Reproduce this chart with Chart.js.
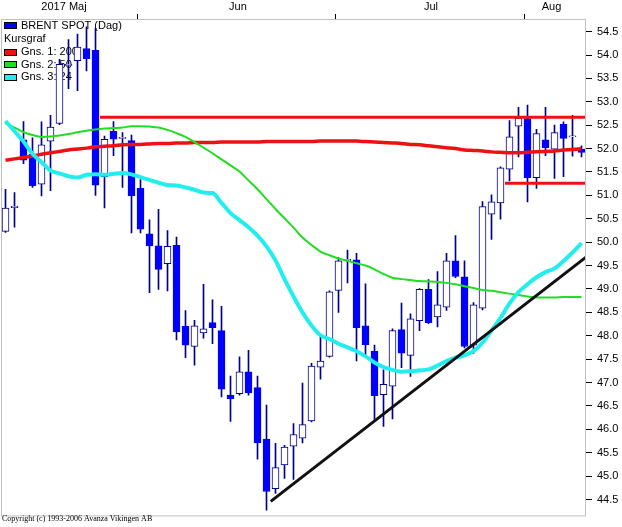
<!DOCTYPE html>
<html>
<head>
<meta charset="utf-8">
<title>BRENT SPOT (Dag)</title>
<script src="https://cdn.jsdelivr.net/npm/chart.js@4.4.1/dist/chart.umd.min.js"></script>
<style>
    html, body { margin: 0; padding: 0; background: #fff; }
    #wrap { width: 622px; height: 527px; }
</style>
</head>
<body>
<div id="wrap"><canvas id="brentChart" width="622" height="527"></canvas></div>
<script>
// candle data, one entry per trading day
const opens  = [50.23, 50.74, 52.19, 51.88, 51.24, 52.16, 52.54, 53.78, 53.88, 54.14,
                54.10, 51.40, 52.37, 52.22, 52.17, 51.15, 50.18, 49.92, 49.54, 49.93,
                48.20, 47.77, 48.06, 48.28, 48.11, 46.73, 46.76, 47.23, 46.89, 45.79,
                44.73, 45.24, 45.64, 45.81, 46.18, 47.33, 47.56, 48.97, 49.61, 49.62,
                48.21, 47.67, 46.74, 46.92, 48.13, 47.58, 48.32, 48.99, 48.40, 48.61,
                49.60, 49.26, 47.80, 48.59, 50.60, 50.84, 51.56, 52.48, 52.64, 51.38,
                52.19, 51.99, 52.52, 52.25, 51.99];
const highs  = [51.13, 51.06, 52.58, 52.23, 52.57, 52.71, 53.91, 54.33, 54.45, 54.60,
                54.57, 52.27, 52.58, 52.34, 52.29, 51.34, 50.48, 50.70, 50.25, 50.11,
                48.54, 48.33, 49.10, 48.77, 48.63, 47.14, 47.55, 47.69, 47.14, 46.52,
                45.70, 45.66, 46.12, 46.99, 47.41, 47.97, 48.96, 49.67, 49.83, 49.76,
                49.11, 47.80, 47.27, 48.15, 48.70, 48.47, 49.01, 49.20, 49.37, 49.76,
                50.14, 49.60, 48.71, 50.87, 51.01, 51.61, 52.60, 52.88, 52.93, 52.41,
                52.88, 52.50, 52.57, 52.71, 52.06];
const lows   = [50.21, 50.32, 51.68, 51.17, 50.99, 51.10, 52.51, 53.28, 53.24, 53.66,
                51.00, 50.73, 51.85, 51.17, 50.20, 50.20, 48.92, 48.99, 48.96, 47.91,
                47.53, 47.37, 47.95, 47.83, 46.69, 46.17, 46.73, 46.73, 45.36, 44.27,
                44.63, 44.95, 44.93, 45.71, 46.16, 47.07, 47.54, 48.50, 49.13, 47.46,
                47.53, 46.21, 46.06, 46.22, 47.32, 47.13, 48.11, 48.26, 48.19, 48.54,
                49.24, 47.74, 47.62, 48.55, 50.06, 50.49, 51.31, 51.82, 50.86, 51.15,
                51.85, 51.36, 51.40, 51.84, 51.82];
const closes = [50.73, 50.77, 51.75, 51.21, 52.08, 52.46, 53.80, 53.80, 54.17, 53.92,
                51.22, 52.20, 52.20, 52.24, 50.99, 50.28, 49.92, 49.42, 49.91, 48.08,
                47.80, 48.21, 48.15, 48.17, 46.86, 46.65, 47.23, 46.78, 45.71, 44.67,
                45.18, 45.62, 45.89, 46.10, 47.35, 47.46, 48.94, 49.60, 49.63, 48.17,
                47.81, 46.72, 46.96, 48.11, 47.63, 48.36, 48.99, 48.28, 48.66, 49.60,
                49.27, 47.77, 48.66, 50.76, 50.86, 51.59, 52.25, 52.65, 51.38, 52.32,
                52.02, 52.34, 52.22, 52.27, 51.92];

// glidande medelvärden (Gns. 1: 200, Gns. 2: 50, Gns. 3: 24)
const ma200 = [51.75, 51.78, 51.81, 51.84, 51.88, 51.91, 51.94, 51.97, 51.99, 52.01,
               52.04, 52.05, 52.06, 52.08, 52.09, 52.09, 52.10, 52.11, 52.11, 52.12,
               52.12, 52.13, 52.13, 52.13, 52.14, 52.14, 52.14, 52.14, 52.14, 52.15,
               52.15, 52.15, 52.15, 52.15, 52.15, 52.16, 52.16, 52.16, 52.16, 52.16,
               52.15, 52.14, 52.13, 52.12, 52.11, 52.09, 52.08, 52.06, 52.04, 52.02,
               52.00, 51.97, 51.96, 51.95, 51.93, 51.92, 51.91, 51.91, 51.92, 51.93,
               51.94, 51.95, 51.97, 51.98, 52.00];
const ma50  = [52.54, 52.45, 52.35, 52.29, 52.25, 52.26, 52.28, 52.31, 52.35, 52.38,
               52.41, 52.43, 52.44, 52.45, 52.48, 52.48, 52.47, 52.45, 52.40, 52.33,
               52.25, 52.14, 52.02, 51.90, 51.77, 51.64, 51.51, 51.32, 51.13, 50.92,
               50.71, 50.51, 50.31, 50.10, 49.94, 49.80, 49.72, 49.65, 49.60, 49.55,
               49.50, 49.42, 49.32, 49.24, 49.21, 49.19, 49.17, 49.16, 49.15, 49.13,
               49.10, 49.06, 49.02, 48.98, 48.96, 48.93, 48.90, 48.87, 48.84, 48.82,
               48.82, 48.82, 48.83, 48.83, 48.83];
const ma24  = [52.59, 52.37, 52.15, 51.89, 51.71, 51.53, 51.47, 51.41, 51.38, 51.44,
               51.45, 51.44, 51.46, 51.48, 51.45, 51.39, 51.33, 51.27, 51.22, 51.21,
               51.17, 51.12, 51.06, 51.05, 50.84, 50.62, 50.47, 50.32, 50.14, 49.91,
               49.61, 49.21, 48.84, 48.50, 48.22, 48.01, 47.93, 47.83, 47.75, 47.67,
               47.56, 47.43, 47.33, 47.27, 47.23, 47.24, 47.26, 47.28, 47.36, 47.46,
               47.53, 47.58, 47.67, 47.85, 48.11, 48.38, 48.69, 48.93, 49.10, 49.25,
               49.36, 49.44, 49.60, 49.78, 49.98];

// ritade linjer (dagindex, kurs)
const resistHigh = [{ x: 10.5, y: 52.67 }, { x: 64.5, y: 52.67 }];
const resistLow  = [{ x: 55.5, y: 51.26 }, { x: 64.5, y: 51.26 }];
const trendLine  = [{ x: 29.47, y: 44.46 }, { x: 64.5, y: 49.68 }];

// axlar
const days = opens.map((_, i) => "d" + (i + 1));
const monthLabels = ["2017 Maj", "Jun", "Jul", "Aug"];
const monthPos = [6.5, 25.83, 47.28, 60.67];
const midMonthPos = [14.64, 36.67, 57.68];
const priceTicks = [44.5, 45.0, 45.5, 46.0, 46.5, 47.0, 47.5, 48.0, 48.5, 49.0, 49.5,
                    50.0, 50.5, 51.0, 51.5, 52.0, 52.5, 53.0, 53.5, 54.0, 54.5];

const legendRows = [
    { text: "BRENT SPOT (Dag)", color: "#0000ff" },
    { text: "Kursgraf", color: null },
    { text: "Gns. 1: 200", color: "#ee1111" },
    { text: "Gns. 2: 50", color: "#22dd22" },
    { text: "Gns. 3: 24", color: "#22eeee" }
];

const NAVY = "#00008b";
const BLUE = "#0000ff";
const isUp = i => closes[i] >= opens[i];

// legend inne i grafen, ritas under staplarna
const legendPlugin = {
    id: "insideLegend",
    beforeDatasetsDraw(chart) {
        const ctx = chart.ctx;
        const rowY = [25.5, 39, 52, 64.5, 77];
        ctx.save();
        ctx.font = '11px "Liberation Sans", Arial, sans-serif';
        ctx.textBaseline = "middle";
        ctx.fillStyle = "#000";
        legendRows.forEach((row, k) => {
            const y = rowY[k];
            if (row.color) {
                ctx.fillStyle = row.color;
                ctx.fillRect(4, Math.round(y - 3.5), 13, 7);
                ctx.strokeStyle = "#000";
                ctx.lineWidth = 1;
                ctx.strokeRect(4.5, Math.round(y - 3.5) + 0.5, 12, 6);
                ctx.fillStyle = "#000";
                ctx.fillText(row.text, 21, y);
            } else {
                ctx.fillText(row.text, 4, y);
            }
        });
        ctx.restore();
    },
    afterDraw(chart) {
        const ctx = chart.ctx;
        const a = chart.chartArea;
        ctx.save();
        ctx.strokeStyle = "#c0c0c0";
        ctx.lineWidth = 1;
        ctx.strokeRect(a.left + 0.5, a.top + 0.5, a.right - a.left - 1, a.bottom - a.top);
        ctx.font = '8px "Liberation Serif", "Times New Roman", serif';
        ctx.fillStyle = "#000";
        ctx.textBaseline = "alphabetic";
        ctx.fillText("Copyright (c) 1993-2006 Avanza Vikingen AB", 2, 521);
        ctx.restore();
    }
};

const ctx = document.getElementById("brentChart").getContext("2d");

new Chart(ctx, {
    type: "bar",
    data: {
        labels: days,
        datasets: [
            {
                label: "wick",
                data: lows.map((l, i) => [l, highs[i]]),
                backgroundColor: NAVY,
                borderWidth: 0,
                barThickness: 1,
                grouped: false,
                xAxisID: "x",
                order: 10
            },
            {
                label: "BRENT SPOT (Dag)",
                data: opens.map((o, i) => [o, closes[i]]),
                backgroundColor: opens.map((_, i) => isUp(i) ? "#ffffff" : BLUE),
                borderColor: opens.map((_, i) => isUp(i) ? NAVY : BLUE),
                borderWidth: 1,
                borderSkipped: false,
                barThickness: 7,
                minBarLength: 1,
                grouped: false,
                xAxisID: "x",
                order: 9
            },
            {
                type: "line",
                label: "Gns. 1: 200",
                data: ma200,
                borderColor: "#ee1111",
                borderWidth: 3.5,
                pointRadius: 0,
                cubicInterpolationMode: "monotone",
                xAxisID: "x",
                order: 5
            },
            {
                type: "line",
                label: "Gns. 2: 50",
                data: ma50,
                borderColor: "#22dd22",
                borderWidth: 2,
                pointRadius: 0,
                cubicInterpolationMode: "monotone",
                xAxisID: "x",
                order: 4
            },
            {
                type: "line",
                label: "Gns. 3: 24",
                data: ma24,
                borderColor: "#22eeee",
                borderWidth: 4,
                pointRadius: 0,
                cubicInterpolationMode: "monotone",
                xAxisID: "x",
                order: 3
            },
            {
                type: "line",
                label: "motstånd",
                data: resistHigh,
                borderColor: "#ee1111",
                borderWidth: 3,
                pointRadius: 0,
                xAxisID: "xt",
                order: 2
            },
            {
                type: "line",
                label: "stöd",
                data: resistLow,
                borderColor: "#ee1111",
                borderWidth: 3,
                pointRadius: 0,
                xAxisID: "xt",
                order: 2
            },
            {
                type: "line",
                label: "trend",
                data: trendLine,
                borderColor: "#111111",
                borderWidth: 3,
                pointRadius: 0,
                xAxisID: "xt",
                order: 1
            }
        ]
    },
    options: {
        responsive: false,
        devicePixelRatio: 1,
        animation: false,
        layout: { padding: { left: 1, right: 0, top: 0, bottom: 1 } },
        plugins: {
            legend: { display: false },
            tooltip: { enabled: false }
        },
        scales: {
            x: {
                type: "category",
                display: false,
                offset: true
            },
            xt: {
                type: "linear",
                position: "top",
                offset: false,
                min: -0.5,
                max: 64.5,
                afterBuildTicks: scale => {
                    scale.ticks = monthPos.concat(midMonthPos)
                        .sort((a, b) => a - b)
                        .map(v => ({ value: v }));
                },
                afterFit: scale => { scale.height = 19; },
                border: { display: false },
                grid: {
                    offset: false,
                    drawOnChartArea: false,
                    drawTicks: true,
                    tickLength: 5,
                    color: c => (c.tick && midMonthPos.includes(c.tick.value)) ? "#000" : "rgba(0,0,0,0)"
                },
                ticks: {
                    autoSkip: false,
                    maxRotation: 0,
                    padding: 0,
                    color: "#000",
                    font: { family: '"Liberation Sans", Arial, sans-serif', size: 11 },
                    callback: value => {
                        const k = monthPos.indexOf(value);
                        return k >= 0 ? monthLabels[k] : "";
                    }
                }
            },
            y: {
                type: "linear",
                position: "right",
                min: 44.16,
                max: 54.77,
                afterBuildTicks: scale => {
                    scale.ticks = priceTicks.map(v => ({ value: v }));
                },
                afterFit: scale => { scale.width = 36; },
                border: { display: false },
                grid: {
                    drawOnChartArea: false,
                    drawTicks: true,
                    tickLength: 6,
                    color: "#000"
                },
                ticks: {
                    padding: 5,
                    color: "#000",
                    font: { family: '"Liberation Sans", Arial, sans-serif', size: 11 },
                    callback: value => value.toFixed(1)
                }
            }
        }
    },
    plugins: [legendPlugin]
});
</script>
</body>
</html>
